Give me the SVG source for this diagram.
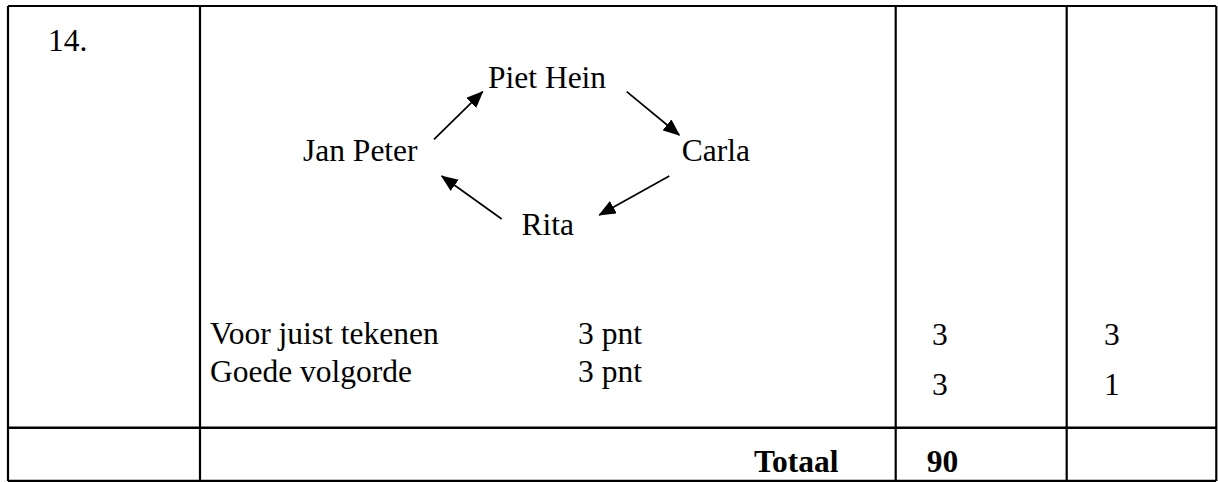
<svg xmlns="http://www.w3.org/2000/svg" width="1218" height="482" viewBox="0 0 1218 482">
<style>
.t{font-family:"Liberation Serif","Times New Roman",serif;font-size:31.5px;fill:#000}
.b{font-weight:bold}
.grid line{stroke:#000;stroke-width:2.2}
.conn line{stroke:#000;stroke-width:1.7}
</style>
<defs>
<marker id="ah" markerWidth="17" markerHeight="14" refX="16" refY="7" orient="auto" markerUnits="userSpaceOnUse">
<path d="M0,0 L17,7 L0,14 Z" fill="#000"/>
</marker>
</defs>
<rect width="1218" height="482" fill="#fff"/>
<g id="table" class="grid">
<line x1="8" y1="6" x2="1216" y2="6"/>
<line x1="8" y1="427.7" x2="1216" y2="427.7" style="stroke-width:2.6"/>
<line x1="8" y1="480.8" x2="1216" y2="480.8"/>
<line x1="8" y1="6" x2="8" y2="481"/>
<line x1="200" y1="6" x2="200" y2="481"/>
<line x1="895.7" y1="6" x2="895.7" y2="481"/>
<line x1="1066.7" y1="6" x2="1066.7" y2="481"/>
<line x1="1216.3" y1="6" x2="1216.3" y2="481"/>
</g>
<text class="t" x="48" y="50.7">14.</text>
<g id="piet-hein"><text class="t" x="488" y="88.3">Piet Hein</text></g>
<g id="jan-peter"><text class="t" x="303" y="160.7">Jan Peter</text></g>
<g id="carla"><text class="t" x="681.7" y="161">Carla</text></g>
<g id="rita"><text class="t" x="521.5" y="234.5">Rita</text></g>
<g id="connectors" class="conn">
<line x1="434" y1="139.3" x2="482.7" y2="91.7" marker-end="url(#ah)"/>
<line x1="626.7" y1="91.7" x2="679.3" y2="135" marker-end="url(#ah)"/>
<line x1="669.3" y1="176" x2="599.3" y2="215" marker-end="url(#ah)"/>
<line x1="501.7" y1="219" x2="441.7" y2="176" marker-end="url(#ah)"/>
</g>
<text class="t" x="210" y="344.3">Voor juist tekenen</text>
<text class="t" x="578" y="344.3">3 pnt</text>
<text class="t" x="210" y="382">Goede volgorde</text>
<text class="t" x="578" y="382">3 pnt</text>
<text class="t" x="932" y="345">3</text>
<text class="t" x="932" y="395">3</text>
<text class="t" x="1104" y="345">3</text>
<text class="t" x="1104" y="395">1</text>
<text class="t b" x="754" y="471.7">Totaal</text>
<text class="t b" x="926.8" y="471.7">90</text>
</svg>
